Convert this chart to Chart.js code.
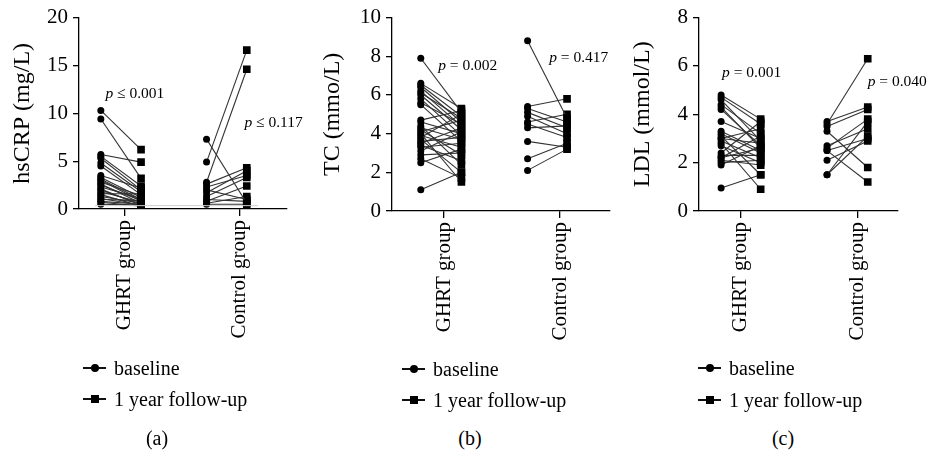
<!DOCTYPE html>
<html>
<head>
<meta charset="utf-8">
<script src="https://cdn.jsdelivr.net/npm/chart.js@4.4.1/dist/chart.umd.min.js"></script>
<style>
  body{margin:0;background:#fff}
  #wrap{position:relative;width:929px;height:456px;overflow:hidden;font-family:'Liberation Serif',serif;color:#000}
  canvas{position:absolute;top:0}
  .row{position:absolute;font-size:20px;line-height:24px;white-space:nowrap}
  .sym{display:inline-block;position:relative;width:23px;height:24px;vertical-align:top;margin-right:8px}
  .sym::before{content:'';position:absolute;left:0;right:0;top:11px;height:2px;background:#111}
  .sym::after{content:'';position:absolute;background:#000}
  .dot::after{left:7.5px;top:8px;width:8px;height:8px;border-radius:50%}
  .sq::after{left:7.5px;top:8px;width:8px;height:8px}
  .cap{position:absolute;width:60px;text-align:center;font-size:20px;line-height:24px;top:426px}
</style>
</head>
<body>
<div id="wrap">
  <canvas id="c1" width="310" height="360" style="left:0"></canvas>
  <canvas id="c2" width="310" height="360" style="left:310px"></canvas>
  <canvas id="c3" width="309" height="360" style="left:620px"></canvas>

  <div class="row" style="left:83px;top:356px"><span class="sym dot"></span>baseline</div>
  <div class="row" style="left:83px;top:387px"><span class="sym sq"></span>1 year follow-up</div>
  <div class="row" style="left:402px;top:357px"><span class="sym dot"></span>baseline</div>
  <div class="row" style="left:402px;top:388px"><span class="sym sq"></span>1 year follow-up</div>
  <div class="row" style="left:698px;top:356px"><span class="sym dot"></span>baseline</div>
  <div class="row" style="left:698px;top:388px"><span class="sym sq"></span>1 year follow-up</div>

  <div class="cap" style="left:127px">(a)</div>
  <div class="cap" style="left:440px">(b)</div>
  <div class="cap" style="left:753px">(c)</div>
</div>
<script>
const groupLabels = ['GHRT group', 'Control group']

// hsCRP (mg/L)
const crpTicks = [0, 5, 10, 15, 20]
const crpGhrtBase   = [10.3, 9.4, 5.7, 5.5, 5.3, 4.8, 4.5, 3.5, 3.3, 3.1, 3.0, 2.8, 2.6, 2.5, 2.3, 2.1, 2.0, 1.8, 1.6, 1.5, 1.3, 1.1, 1.0, 0.8, 0.7, 0.5]
const crpGhrtFollow = [6.2, 3.2, 4.9, 2.4, 2.0, 1.8, 1.5, 2.2, 1.2, 1.0, 0.8, 1.4, 0.6, 0.9, 1.1, 0.4, 0.5, 0.7, 1.6, 0.3, 0.6, 0.4, 0.9, 0.5, 0.3, 0.4]
const crpCtrlBase   = [7.3, 4.9, 2.8, 2.6, 2.3, 2.0, 1.7, 1.3, 1.0, 0.8, 0.6, 0.5]
const crpCtrlFollow = [0.6, 16.6, 14.6, 4.3, 3.5, 1.0, 4.0, 3.3, 0.8, 2.4, 1.3, 0.5]

// TC (mmo/L)
const tcTicks = [0, 2, 4, 6, 8, 10]
const tcGhrtBase   = [7.9, 6.6, 6.5, 6.4, 6.2, 6.1, 6.0, 5.8, 5.6, 5.5, 4.7, 4.6, 4.4, 4.3, 4.2, 4.1, 4.0, 3.9, 3.8, 3.7, 3.6, 3.5, 3.4, 3.3, 3.1, 2.9, 2.7, 2.5, 1.1]
const tcGhrtFollow = [5.1, 5.3, 4.9, 4.6, 4.4, 4.8, 4.2, 3.9, 4.5, 3.6, 5.2, 4.0, 2.4, 3.7, 2.9, 4.7, 1.5, 3.3, 5.0, 2.0, 3.8, 4.3, 2.6, 3.5, 4.1, 3.0, 1.7, 3.2, 2.0]
const tcCtrlBase   = [8.8, 5.4, 5.3, 5.1, 4.9, 4.6, 4.5, 4.3, 3.6, 2.7, 2.1]
const tcCtrlFollow = [4.8, 5.8, 4.6, 4.3, 4.0, 5.0, 3.8, 4.4, 3.3, 3.5, 3.2]

// LDL (mmol/L)
const ldlTicks = [0, 2, 4, 6, 8]
const ldlGhrtBase   = [4.8, 4.7, 4.6, 4.4, 4.3, 4.2, 3.7, 3.3, 3.2, 3.1, 3.0, 3.0, 2.9, 2.8, 2.7, 2.4, 2.3, 2.2, 2.2, 2.1, 2.0, 1.9, 0.95]
const ldlGhrtFollow = [3.8, 3.6, 2.9, 3.2, 2.6, 2.7, 3.0, 2.5, 2.4, 1.5, 2.8, 3.4, 2.2, 0.9, 2.0, 3.7, 2.3, 2.6, 3.1, 1.9, 2.1, 2.7, 1.5]
const ldlCtrlBase   = [3.7, 3.6, 3.5, 3.3, 2.7, 2.6, 2.5, 2.5, 2.1, 1.5, 1.5]
const ldlCtrlFollow = [4.3, 6.3, 4.2, 1.8, 3.4, 3.8, 1.2, 3.0, 2.9, 3.7, 3.1]

const FONT = "'Liberation Serif', 'Times New Roman', serif"

function pairs(base, follow, xb, xf){
    return base.map((b, i) => ({
        data: [{x: xb, y: b}, {x: xf, y: follow[i]}],
        borderColor: '#333',
        borderWidth: 1.1,
        pointStyle: ['circle', 'rect'],
        pointRadius: [3.5, 5.4],
        pointBackgroundColor: '#000',
        pointBorderWidth: 0,
        pointHoverRadius: [3.5, 5.4]
    }))
}

const pNotes = {
    id: 'pNotes',
    afterDatasetsDraw(chart, args, opts){
        const ctx = chart.ctx
        const xs = chart.scales.x, ys = chart.scales.y
        ctx.save()
        ctx.fillStyle = '#000'
        ctx.textBaseline = 'middle'
        opts.notes.forEach(n => {
            let px = xs.getPixelForValue(n.x), py = ys.getPixelForValue(n.y)
            ctx.font = 'italic 15.5px ' + FONT
            ctx.fillText('p', px, py)
            px += ctx.measureText('p ').width
            ctx.font = '15.5px ' + FONT
            ctx.fillText(n.text, px, py)
        })
        ctx.restore()
    }
}

function makeChart(id, p){
    let datasets = [...pairs(p.ghrtBase, p.ghrtFollow, 1 + p.off[0], 1 + p.off[1]),
                    ...pairs(p.ctrlBase, p.ctrlFollow, 2 + p.off[2], 2 + p.off[3])]
    if(p.extra) datasets.unshift(p.extra)
    new Chart(id, {
        type: 'line',
        data: {datasets: datasets},
        plugins: [pNotes],
        options: {
            responsive: false,
            animation: false,
            events: [],
            layout: {padding: {top: 14, right: p.right, left: 0, bottom: 0}},
            plugins: {
                legend: {display: false},
                tooltip: {enabled: false},
                pNotes: {notes: p.notes}
            },
            scales: {
                x: {
                    type: 'linear',
                    min: p.xmin,
                    max: p.xmax,
                    afterFit: s => { s.height = 360 - p.bottom },
                    afterBuildTicks: s => { s.ticks = groupLabels.map((g, i) => ({value: i + 1})) },
                    border: {color: '#000', width: 1.3},
                    grid: {drawOnChartArea: false, color: '#000', lineWidth: 1.3, tickLength: 7},
                    ticks: {
                        autoSkip: false,
                        minRotation: 90,
                        maxRotation: 90,
                        padding: 4,
                        color: '#000',
                        font: {family: FONT, size: 21},
                        callback: v => groupLabels[v - 1]
                    }
                },
                y: {
                    min: p.yTicks[0],
                    max: p.yTicks[p.yTicks.length - 1],
                    afterFit: s => { s.width = p.left },
                    afterBuildTicks: s => { s.ticks = p.yTicks.map(v => ({value: v})) },
                    border: {color: '#000', width: 1.3},
                    grid: {drawOnChartArea: false, color: '#000', lineWidth: 1.3, tickLength: 6},
                    ticks: {padding: 5, color: '#000', font: {family: FONT, size: 21}},
                    title: {
                        display: true,
                        text: p.title,
                        color: '#000',
                        font: {family: FONT, size: 24, lineHeight: 1.2},
                        padding: {top: 8, bottom: 0}
                    }
                }
            }
        }
    })
}

makeChart('c1', {
    title: 'hsCRP (mg/L)', yTicks: crpTicks,
    ghrtBase: crpGhrtBase, ghrtFollow: crpGhrtFollow, ctrlBase: crpCtrlBase, ctrlFollow: crpCtrlFollow,
    off: [-0.21, 0.14, -0.29, 0.06],
    xmin: 0.6, xmax: 2.41, left: 79, right: 23, bottom: 209,
    notes: [{x: 0.83, y: 12.0, text: '≤ 0.001'}, {x: 2.04, y: 9.0, text: '≤ 0.117'}],
    extra: {data: [{x: 0.74, y: 0.35}, {x: 2.16, y: 0.35}], borderColor: '#d0d0d0', borderWidth: 1, pointRadius: 0}
})
makeChart('c2', {
    title: 'TC (mmo/L)', yTicks: tcTicks,
    ghrtBase: tcGhrtBase, ghrtFollow: tcGhrtFollow, ctrlBase: tcCtrlBase, ctrlFollow: tcCtrlFollow,
    off: [-0.2, 0.15, -0.28, 0.06],
    xmin: 0.552, xmax: 2.43, left: 82, right: 10, bottom: 211,
    notes: [{x: 0.95, y: 7.52, text: '= 0.002'}, {x: 1.906, y: 7.93, text: '= 0.417'}]
})
makeChart('c3', {
    title: 'LDL (mmol/L)', yTicks: ldlTicks,
    ghrtBase: ldlGhrtBase, ghrtFollow: ldlGhrtFollow, ctrlBase: ldlCtrlBase, ctrlFollow: ldlCtrlFollow,
    off: [-0.17, 0.17, -0.26, 0.09],
    xmin: 0.64, xmax: 2.35, left: 79, right: 31, bottom: 211,
    notes: [{x: 0.838, y: 5.72, text: '= 0.001'}, {x: 2.09, y: 5.35, text: '= 0.040'}]
})
</script>
</body>
</html>
